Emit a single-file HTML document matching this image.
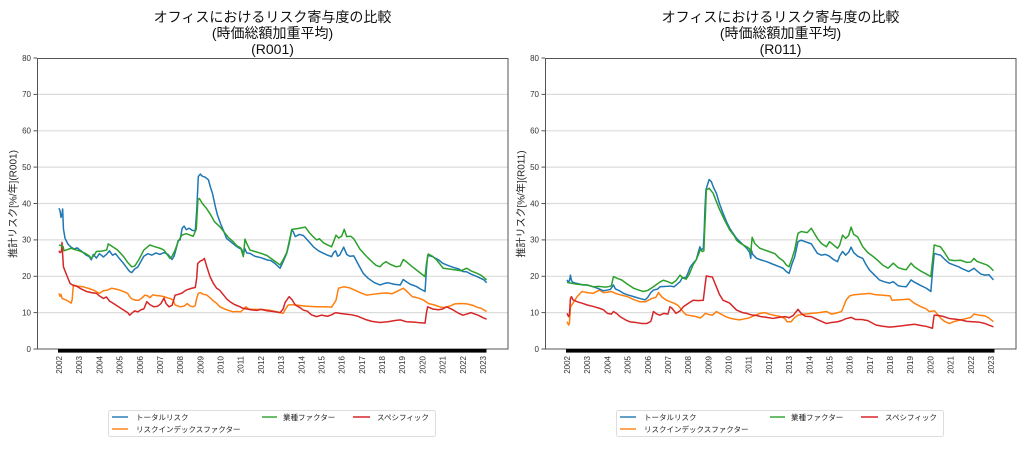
<!DOCTYPE html>
<html><head><meta charset="utf-8"><style>
html,body{margin:0;padding:0;background:#fff;}
svg{display:block;}
text{font-family:"Liberation Sans","Noto Sans CJK JP",sans-serif;}
.t{font-size:14px;fill:#111;}
.yl{font-size:8px;fill:#333;}
.xl{font-size:8px;fill:#333;}
.lab{font-size:10px;fill:#222;}
.lg{font-size:7.5px;fill:#222;}
.s{fill:none;stroke-width:1.5;vector-effect:non-scaling-stroke;stroke-linejoin:round;}
.b{stroke:#1f77b4}.o{stroke:#ff7f0e}.g{stroke:#2ca02c}.r{stroke:#d62728}
.grid line{stroke:#dcdcdc;stroke-width:1.2;}
</style></head><body>
<svg width="1024" height="455" viewBox="0 0 1024 455" xmlns="http://www.w3.org/2000/svg">
<defs>
<g id="axes">
  <g class="grid">
    <line x1="37" x2="508" y1="312.6" y2="312.6"/>
    <line x1="37" x2="508" y1="276.3" y2="276.3"/>
    <line x1="37" x2="508" y1="239.9" y2="239.9"/>
    <line x1="37" x2="508" y1="203.5" y2="203.5"/>
    <line x1="37" x2="508" y1="167.1" y2="167.1"/>
    <line x1="37" x2="508" y1="130.8" y2="130.8"/>
    <line x1="37" x2="508" y1="94.4" y2="94.4"/>
  </g>
  <g stroke="#555" stroke-width="1">
    <line x1="33.5" x2="37" y1="349" y2="349"/>
    <line x1="33.5" x2="37" y1="312.6" y2="312.6"/>
    <line x1="33.5" x2="37" y1="276.3" y2="276.3"/>
    <line x1="33.5" x2="37" y1="239.9" y2="239.9"/>
    <line x1="33.5" x2="37" y1="203.5" y2="203.5"/>
    <line x1="33.5" x2="37" y1="167.1" y2="167.1"/>
    <line x1="33.5" x2="37" y1="130.8" y2="130.8"/>
    <line x1="33.5" x2="37" y1="94.4" y2="94.4"/>
    <line x1="33.5" x2="37" y1="58" y2="58"/>
  </g>
  <g class="yl" text-anchor="end">
    <text x="31" y="351.8">0</text>
    <text x="31" y="315.4">10</text>
    <text x="31" y="279.1">20</text>
    <text x="31" y="242.7">30</text>
    <text x="31" y="206.3">40</text>
    <text x="31" y="169.9">50</text>
    <text x="31" y="133.6">60</text>
    <text x="31" y="97.2">70</text>
    <text x="31" y="60.8">80</text>
  </g>
  <rect x="37.5" y="58.5" width="470.5" height="290.5" fill="none" stroke="#555" stroke-width="1"/>
  <rect x="58" y="349" width="428.5" height="3.6" fill="#000"/>
  <g class="xl" text-anchor="end">
    <text transform="translate(62,356) rotate(-90)">2002</text>
    <text transform="translate(82.2,356) rotate(-90)">2003</text>
    <text transform="translate(102.4,356) rotate(-90)">2004</text>
    <text transform="translate(122.6,356) rotate(-90)">2005</text>
    <text transform="translate(142.8,356) rotate(-90)">2006</text>
    <text transform="translate(162.9,356) rotate(-90)">2007</text>
    <text transform="translate(183.1,356) rotate(-90)">2008</text>
    <text transform="translate(203.3,356) rotate(-90)">2009</text>
    <text transform="translate(223.5,356) rotate(-90)">2010</text>
    <text transform="translate(243.7,356) rotate(-90)">2011</text>
    <text transform="translate(263.9,356) rotate(-90)">2012</text>
    <text transform="translate(284.1,356) rotate(-90)">2013</text>
    <text transform="translate(304.3,356) rotate(-90)">2014</text>
    <text transform="translate(324.5,356) rotate(-90)">2015</text>
    <text transform="translate(344.7,356) rotate(-90)">2016</text>
    <text transform="translate(364.9,356) rotate(-90)">2017</text>
    <text transform="translate(385.0,356) rotate(-90)">2018</text>
    <text transform="translate(405.2,356) rotate(-90)">2019</text>
    <text transform="translate(425.4,356) rotate(-90)">2020</text>
    <text transform="translate(445.6,356) rotate(-90)">2021</text>
    <text transform="translate(465.8,356) rotate(-90)">2022</text>
    <text transform="translate(486,356) rotate(-90)">2023</text>
  </g>
  <text class="t" x="272.5" y="22" text-anchor="middle">オフィスにおけるリスク寄与度の比較</text>
  <text class="t" x="272.5" y="38" text-anchor="middle">(時価総額加重平均)</text>
  <rect x="108.5" y="410.5" width="327" height="26" fill="#fff" stroke="#ddd" stroke-width="1" rx="2"/>
  <line x1="112" x2="128" y1="417" y2="417" stroke="#1f77b4" stroke-width="1.4"/>
  <text class="lg" x="136" y="419.8">トータルリスク</text>
  <line x1="112" x2="128" y1="429" y2="429" stroke="#ff7f0e" stroke-width="1.4"/>
  <text class="lg" x="136" y="431.8">リスクインデックスファクター</text>
  <line x1="262" x2="277" y1="417" y2="417" stroke="#2ca02c" stroke-width="1.4"/>
  <text class="lg" x="283" y="419.8">業種ファクター</text>
  <line x1="353" x2="370" y1="417" y2="417" stroke="#d62728" stroke-width="1.4"/>
  <text class="lg" x="377" y="419.8">スペシフィック</text>
</g>
</defs>

<!-- LEFT CHART -->
<use href="#axes"/>
<text class="t" x="272.5" y="54" text-anchor="middle">(R001)</text>
<text class="lab" transform="translate(16.5,204) rotate(-90)" text-anchor="middle">推計リスク[%/年](R001)</text>
<g transform="translate(59,349) scale(20.19,-3.6375)">
<polyline class="s o" points="0,15.3 0.05,14.5 0.1,15 0.15,13.9 0.3,13.6 0.38,13.4 0.5,13 0.6,12.6 0.65,13.5 0.71,17.6 0.9,17.3 1.2,17.1 1.5,16.6 1.7,16.2 2.0,15.3 2.2,16 2.4,16.2 2.6,16.7 2.8,16.5 3.0,16.2 3.2,15.8 3.4,15.3 3.5,14.4 3.6,13.8 3.8,13.4 3.95,13.4 4.1,14 4.25,14.8 4.4,14.6 4.5,14.1 4.65,14.9 4.8,14.7 5.0,14.6 5.2,14.4 5.4,14 5.5,13.9 5.66,13.4 5.75,12.1 6.0,11.6 6.2,11.8 6.35,12.5 6.5,11.8 6.65,11.6 6.75,12 6.82,14 6.9,15.3 7.0,15.5 7.15,15 7.3,14.9 7.5,14 7.65,13.2 7.8,12.6 7.97,11.6 8.2,11 8.4,10.6 8.63,10.2 8.8,10.3 9.0,10.2 9.13,10.9 9.25,11.6 9.4,11 9.6,10.9 10.0,10.9 10.4,10.7 10.8,10.2 11.1,9.8 11.2,10.8 11.35,12.1 11.6,12.2 11.9,12 12.2,11.8 12.5,11.7 12.8,11.6 13.1,11.6 13.5,11.5 13.72,13.4 13.84,16.7 14.1,17.1 14.4,16.8 14.6,16.3 14.8,15.8 15.0,15.3 15.24,14.8 15.5,15 15.9,15.3 16.2,15.4 16.5,15.2 16.8,16 17.05,16.7 17.2,16 17.5,14.4 17.8,14 18.04,13.5 18.3,12.5 18.6,12.1 18.9,11.5 19.1,11.4 19.4,11.9 19.6,12.4 19.9,12.5 20.2,12.4 20.5,12 20.7,11.5 20.9,11.2 21.18,10.3"/>
<polyline class="s r" points="0,27 0.05,26.5 0.12,26.8 0.15,29.3 0.18,26 0.22,22.6 0.38,20.3 0.55,18 0.7,17.5 0.9,17.2 1.1,16.5 1.37,15.8 1.6,15.5 1.86,15.3 2.0,14.6 2.2,13.9 2.35,14.3 2.5,13.2 2.7,12.5 2.9,11.8 3.2,10.7 3.4,10 3.5,9.3 3.6,9.8 3.75,10.5 3.9,10.2 4.1,10.9 4.2,11 4.35,13 4.5,12.2 4.7,11.6 4.9,11.8 5.05,12.5 5.2,14 5.3,12.5 5.45,11.6 5.6,12 5.75,14.8 5.9,15 6.1,15.4 6.3,16.2 6.57,16.7 6.75,16.9 6.82,19.5 6.87,23.5 7.0,24.2 7.1,24.4 7.2,24.9 7.3,23 7.48,19.9 7.65,18 7.81,16.7 7.95,16.2 8.1,15.2 8.3,13.8 8.47,13 8.7,12.2 8.97,11.6 9.1,11.2 9.3,11 9.5,10.8 9.8,10.6 10.0,10.9 10.3,10.5 10.6,10.3 10.95,10 11.1,11 11.2,12.8 11.4,14.4 11.55,13.5 11.7,12.1 11.9,11.5 12.1,10.7 12.3,10.4 12.5,9.4 12.76,8.9 13.0,9.3 13.3,9 13.5,9.4 13.7,10 13.9,9.8 14.2,9.6 14.5,9.4 14.8,9 15.24,8 15.5,7.6 15.9,7.3 16.3,7.5 16.6,7.8 16.9,8 17.2,7.5 17.6,7.4 17.9,7.2 18.13,7.1 18.2,10 18.26,11.6 18.5,11 18.8,10.8 19.0,11 19.2,11.6 19.5,10.8 19.8,9.8 20.0,9.3 20.2,9.6 20.4,10 20.6,9.6 20.8,9.2 21.0,8.6 21.18,8.2"/>
<polyline class="s b" points="0,38.7 0.05,38 0.1,36.2 0.15,37 0.18,38.5 0.22,33 0.3,30.4 0.45,28.8 0.6,28 0.75,27.5 0.9,27.8 1.04,27.2 1.2,26.5 1.35,25.8 1.5,25.4 1.6,24.5 1.7,26 1.85,25 2.0,26.2 2.2,25.3 2.35,26 2.5,27 2.65,25.8 2.8,26.2 3.0,24.8 3.2,23.5 3.4,22 3.5,21.3 3.6,21 3.75,22 3.9,22.5 4.05,24 4.2,25.5 4.4,26.2 4.6,25.8 4.8,26.4 5.0,26 5.2,26.5 5.4,26 5.6,24.6 5.7,25.5 5.8,27.5 5.9,29.8 6.0,30 6.1,33.2 6.2,33.8 6.3,32.8 6.45,33.2 6.6,32.6 6.75,32.5 6.82,38 6.9,47.4 7.0,48.1 7.1,47.5 7.25,47.2 7.4,46.5 7.5,44.5 7.6,42.8 7.75,39 7.85,36.8 8.0,34.5 8.15,32.5 8.3,30.4 8.5,29.5 8.7,28.6 8.9,27.8 9.05,27.4 9.13,25.8 9.2,27.6 9.3,26.4 9.46,26.3 9.7,25.5 10.0,25.1 10.3,24.5 10.5,24.3 10.7,23.5 10.95,22.2 11.1,24 11.28,26.3 11.4,29 11.53,32.7 11.6,32.3 11.7,30.9 11.9,31.5 12.1,31.2 12.3,30 12.6,28.1 12.85,27 13.1,26.3 13.3,25.8 13.5,25.4 13.6,26.5 13.7,27 13.8,25.5 13.9,25.8 14.1,28 14.25,26 14.4,25.5 14.6,25.6 14.8,23.5 15.07,20.8 15.3,19.5 15.6,18.3 15.9,17.6 16.1,18 16.3,18.2 16.6,17.8 16.9,17.6 17.05,19.1 17.2,18.5 17.4,17.8 17.7,17.2 17.9,16.5 18.13,15.8 18.2,22 18.26,25.8 18.5,25.4 18.8,24.5 19.0,23.6 19.2,23.1 19.5,22.5 19.8,22 20.0,21.3 20.2,21.2 20.4,20.6 20.7,19.9 20.9,19.4 21.05,19 21.18,18.2"/>
<polyline class="s g" points="0,28.6 0.2,28.2 0.25,27 0.4,27.3 0.6,27.7 0.8,27.3 1.0,27 1.3,26.3 1.5,25.6 1.6,24.9 1.75,25.8 1.85,26.8 2.1,26.9 2.36,27.2 2.44,28.9 2.6,28.3 2.9,27.2 3.2,25.4 3.4,23.8 3.6,22.6 3.75,22.8 3.95,24.5 4.2,27.2 4.5,28.6 4.7,28.2 5.0,27.7 5.2,27.2 5.35,26 5.5,24.9 5.6,25.5 5.75,27.2 5.9,29.5 6.08,31.3 6.3,31.7 6.45,31.4 6.65,31 6.8,33 6.88,41 6.95,41.4 7.1,40 7.3,38.7 7.5,37 7.7,35 7.97,33.6 8.2,32 8.4,30.6 8.63,29.5 8.8,28.4 9.0,27.8 9.13,25.4 9.21,30.2 9.3,29 9.46,27.2 9.7,26.8 10.0,26.3 10.3,25.7 10.6,24.5 10.95,23.1 11.1,24.5 11.28,26.5 11.4,29.5 11.53,32.9 11.8,33.1 12.2,33.5 12.4,32 12.6,30.8 12.76,30 12.9,30.3 13.1,29.2 13.3,28.6 13.5,28.1 13.6,29.5 13.72,31.3 13.85,30.5 14.0,31 14.13,32.9 14.25,30.9 14.45,31 14.6,30.3 14.9,27.5 15.24,25.4 15.5,24 15.7,23 15.9,22.6 16.05,23.5 16.2,24 16.4,23.3 16.7,22.6 16.9,22.8 17.05,24.6 17.2,24 17.5,22.6 17.8,21.3 18.13,19.9 18.2,23.5 18.29,26.1 18.5,25.5 18.7,24.5 19.03,22.2 19.3,22 19.6,21.8 19.9,21.5 20.2,22.2 20.4,21.5 20.7,20.8 20.9,20.3 21.18,19"/>
</g>

<!-- RIGHT CHART -->
<g transform="translate(508,0)">
<use href="#axes"/>
<text class="t" x="272.5" y="54" text-anchor="middle">(R011)</text>
<text class="lab" transform="translate(16.5,204) rotate(-90)" text-anchor="middle">推計リスク[%/年](R011)</text>
<g transform="translate(59,349) scale(20.19,-3.6375)">
<polyline class="s o" points="0,7.5 0.08,6.6 0.12,7 0.17,11.6 0.3,12.6 0.5,14.4 0.74,15.8 1.0,15.5 1.3,15.3 1.6,16.2 1.8,15.5 2.0,15.6 2.2,15.8 2.4,15.3 2.7,14.8 3.0,14.4 3.3,13.6 3.6,13 3.9,13 4.2,13.9 4.4,14.2 4.53,15.5 4.7,14.3 4.9,13.5 5.1,13 5.3,12.6 5.5,12 5.68,10.7 5.9,9.4 6.2,9.1 6.4,8.9 6.6,8.5 6.75,9.2 6.85,9.8 7.0,9.5 7.2,9.3 7.4,10.3 7.55,9.8 7.73,9.3 7.9,8.8 8.06,8.5 8.3,8.2 8.55,8 8.8,8.3 9.0,8.5 9.2,9 9.56,9.8 9.8,10 10.0,9.6 10.3,9.2 10.6,8.9 10.8,8.3 10.9,7.5 11.1,7.5 11.25,8.5 11.44,9.3 11.8,9.6 12.1,9.8 12.5,10 12.85,10.3 13.1,9.6 13.35,9.9 13.6,10.3 13.83,13.5 14.0,14.6 14.2,14.9 14.6,15.1 14.98,15.3 15.3,14.9 15.6,14.8 16.0,14.6 16.1,13.4 16.4,13.5 16.7,13.6 16.95,13.7 17.2,12.6 17.5,11.7 17.8,11 17.94,10.3 18.1,10.4 18.2,10.5 18.52,8.4 18.7,7.6 18.93,7.0 19.2,7.6 19.5,8 19.8,8.4 20.0,8.7 20.16,9.6 20.4,9.3 20.7,9.1 20.9,8.5 21.12,7.5"/>
<polyline class="s r" points="0,9.8 0.08,8.9 0.12,9.3 0.17,13.9 0.22,14.4 0.3,13.5 0.5,13 0.8,12.5 1.0,12.1 1.3,11.7 1.6,11.2 1.8,10.8 2.0,9.8 2.2,9.6 2.3,10.3 2.45,9.8 2.63,8.9 2.9,8 3.1,7.5 3.4,7.3 3.7,7.0 3.95,7.0 4.15,7.6 4.2,8.5 4.28,10.3 4.45,9.6 4.6,9.3 4.8,9.8 5.0,9.6 5.1,11.6 5.2,11.2 5.4,9.8 5.6,10.5 5.76,11.6 6.0,12.5 6.25,13.4 6.5,13.3 6.75,13.4 6.85,18 6.9,20.1 7.05,19.9 7.2,19.8 7.4,17.1 7.55,15 7.73,13.4 7.9,13 8.06,12.6 8.2,11.8 8.4,10.7 8.7,10 8.9,9.8 9.05,9.5 9.2,9.3 9.4,9.2 9.6,8.9 9.9,8.7 10.2,8.4 10.5,8.7 10.8,8.9 11.0,8.6 11.2,9.2 11.44,10.9 11.6,9.8 11.8,9 12.1,8.9 12.4,8.1 12.6,7.6 12.85,7.0 13.1,7.3 13.4,7.5 13.6,7.8 13.8,8.3 14.07,8.7 14.3,8.1 14.6,8.1 14.9,7.8 15.3,6.6 15.6,6.3 15.97,6.0 16.3,6.2 16.6,6.4 16.9,6.6 17.2,6.8 17.5,6.5 17.8,6.2 18.1,5.7 18.15,8 18.19,9.3 18.4,9.2 18.6,9 18.93,8.4 19.2,8.2 19.5,8.0 19.8,7.6 20.1,7.5 20.4,7.4 20.7,7.0 21.12,6.1"/>
<polyline class="s b" points="0,19 0.08,18.2 0.15,19.5 0.17,20.3 0.22,18.8 0.3,18.3 0.5,18.0 0.8,17.6 1.0,17.6 1.3,17.1 1.6,16.5 1.8,16 2.0,16.2 2.15,16.4 2.3,17.6 2.4,16.5 2.6,16 2.8,15.3 3.0,14.9 3.3,14.4 3.6,13.9 3.87,13.5 4.0,14.2 4.15,15.5 4.28,16.2 4.5,16.5 4.6,17.1 4.9,17.2 5.1,17.3 5.3,17.1 5.6,18.5 5.7,19.5 5.9,19.7 6.0,21 6.1,22.5 6.25,23.6 6.4,24.5 6.5,26.5 6.58,28.1 6.65,27.3 6.75,27.6 6.8,33 6.83,38.2 6.88,43.7 6.95,45 7.04,46.6 7.15,46 7.25,44.5 7.4,42.8 7.55,40 7.73,37.3 7.9,35 8.06,33.2 8.2,32 8.4,30.4 8.6,29.3 8.9,27.7 9.05,26.5 9.1,24.9 9.13,27.2 9.2,26 9.4,24.9 9.6,24.5 9.9,24 10.2,23.3 10.53,22.6 10.7,22.2 10.86,21.3 11.0,20.8 11.15,23.5 11.28,25.4 11.44,29.5 11.6,29.9 11.8,29.5 12.1,28.9 12.4,26.3 12.6,25.8 12.8,26 13.0,25.5 13.2,24.6 13.4,24 13.5,25.5 13.65,26.8 13.8,25.8 13.95,26.6 14.07,28 14.2,26.5 14.4,25.5 14.65,24.9 14.8,23.3 14.98,21.7 15.2,20.5 15.47,19 15.7,18.5 15.97,18.1 16.16,18.5 16.4,17.4 16.6,17.2 16.8,17.1 17.04,19 17.2,18.4 17.5,17.5 17.8,16.7 18.02,15.8 18.1,21 18.19,26.3 18.35,26 18.5,25.8 18.7,24.7 18.93,23.6 19.2,23 19.4,22.6 19.6,22 19.9,21.3 20.16,22.2 20.3,21.5 20.5,20.6 20.7,20.3 20.9,20.4 21.12,19"/>
<polyline class="s g" points="0,18.3 0.2,18.1 0.5,17.8 1.0,17.6 1.3,17.1 1.6,17.2 1.9,17.0 2.1,17.2 2.2,17.4 2.3,19.9 2.5,19.4 2.7,19 3.0,17.8 3.3,16.7 3.55,16.2 3.78,15.8 4.0,16.1 4.2,16.8 4.4,17.6 4.6,18.4 4.77,18.9 5.0,18.5 5.2,18 5.4,18.8 5.6,20.3 5.75,19.5 5.9,19.2 6.05,20.5 6.25,23.2 6.4,24.5 6.55,26.5 6.58,27.3 6.7,26.8 6.78,27 6.82,33 6.85,36.4 6.9,43.7 7.04,44.2 7.24,42.8 7.4,40.5 7.57,38.2 7.8,35.5 8.06,32.7 8.3,31 8.4,29.9 8.6,29 8.9,28.1 9.05,27.5 9.1,26.3 9.17,30.7 9.3,29 9.55,27.7 9.8,27.2 10.0,26.8 10.3,26.2 10.53,24.9 10.7,24.3 10.86,23.1 11.0,22.6 11.15,25 11.28,27.3 11.44,31.8 11.6,32.3 11.9,32 12.1,33.2 12.4,30.4 12.6,29 12.85,28.1 13.0,29.5 13.2,28.6 13.4,27.7 13.5,28.5 13.65,31.3 13.8,30.4 13.95,31.2 14.07,33.5 14.2,31.5 14.4,30.8 14.65,28.1 14.9,26.5 15.17,25.4 15.4,24.3 15.63,23.1 15.9,22.2 16.16,23.6 16.4,22.4 16.6,22 16.8,21.8 17.04,23.6 17.2,22.6 17.5,21.5 17.8,20.6 18.02,19.9 18.1,24 18.19,28.6 18.35,28.3 18.5,28.1 18.7,26.5 18.93,24.5 19.2,24.3 19.5,24.4 19.8,23.8 20.0,23.9 20.16,24.9 20.3,24.1 20.6,23.5 20.8,23.1 20.95,22.5 21.12,21.5"/>
</g>
</g>
</svg>
</body></html>
